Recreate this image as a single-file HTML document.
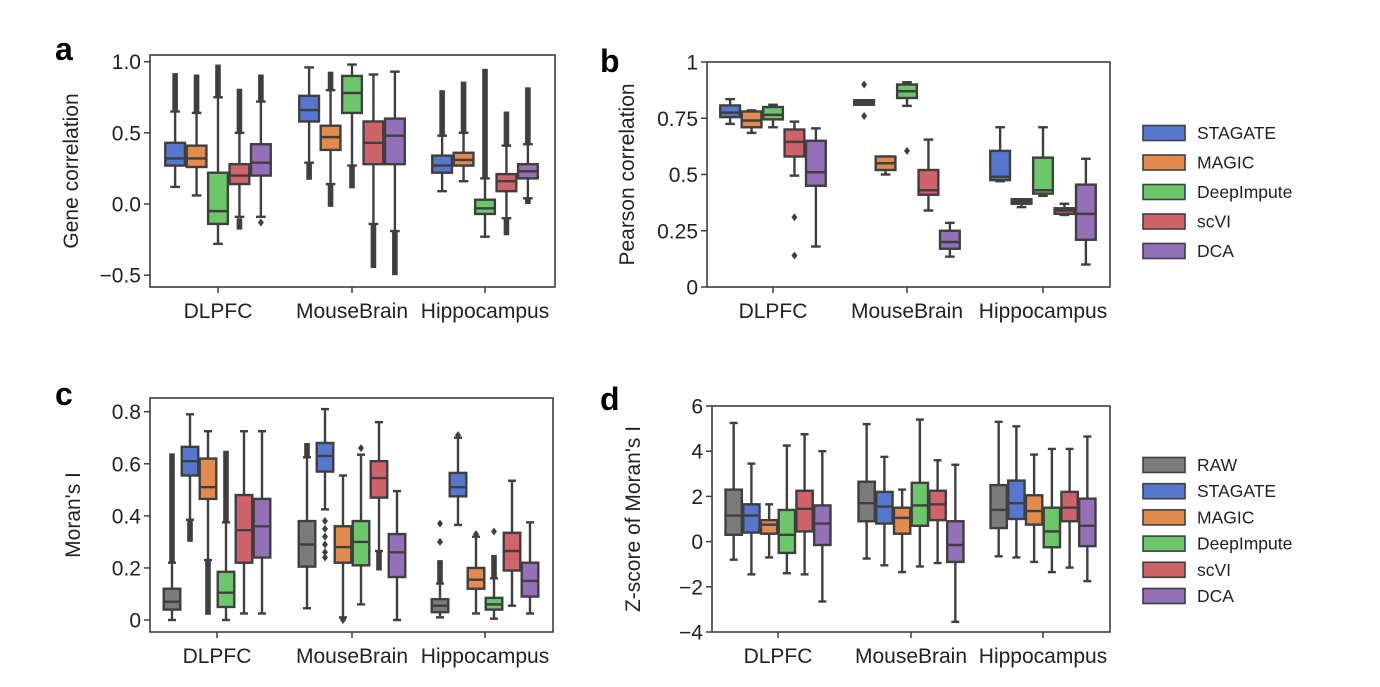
<!DOCTYPE html>
<html><head><meta charset="utf-8"><style>
body{margin:0;background:#fff;}
svg text{font-family:"Liberation Sans",Arial,sans-serif;fill:#222;}
</style></head><body>
<svg id="s" width="1380" height="682" xmlns="http://www.w3.org/2000/svg"></svg>
<script>
const C={gray:'#7b7b7b',blue:'#5577cd',orange:'#e38a4f',green:'#6cc76a',red:'#d0636a',purple:'#9370b8'};
const L='#3f3f3f';
let out='';
function panel(P){
  const {l,r,t,b,y0,y1,v0,v1,ticks,cx,cols,data,ylabel,ylx,letter,lx,ly}=P;
  const Y=v=>y0+(v-v0)*(y1-y0)/(v1-v0);
  out+=`<rect x="${l}" y="${t}" width="${r-l}" height="${b-t}" fill="#fff" stroke="${L}" stroke-width="1.6"/>`;
  ticks.forEach(tk=>{const y=Y(tk[0]);out+=`<line x1="${l-6}" x2="${l}" y1="${y}" y2="${y}" stroke="${L}" stroke-width="1.5"/><text x="${l-9}" y="${y+7.5}" font-size="21" text-anchor="end">${tk[1]}</text>`;});
  const names=['DLPFC','MouseBrain','Hippocampus'];
  const gw=(cx[1]-cx[0])*0.8, n=cols.length, bw=gw/n;
  cx.forEach((c,g)=>{
    out+=`<line x1="${c}" x2="${c}" y1="${b}" y2="${b+6}" stroke="${L}" stroke-width="1.5"/><text x="${c}" y="${b+31}" font-size="21" text-anchor="middle">${names[g]}</text>`;
    data[g].forEach((d,i)=>{
      const [q1,med,q3,lo,hi,outs]=d;
      const x=c-gw/2+bw*i+bw/2, w=bw*0.92, cap=bw*0.45;
      (outs||[]).forEach(o=>{
        if(Array.isArray(o)){out+=`<rect x="${x-2.8}" y="${Y(Math.max(o[0],o[1]))}" width="5.6" height="${Math.abs(Y(o[0])-Y(o[1]))}" fill="${L}"/>`;}
        else {const y=Y(o);out+=`<path d="M${x} ${y-4}L${x+3} ${y}L${x} ${y+4}L${x-3} ${y}Z" fill="${L}"/>`;}
      });
      out+=`<line x1="${x}" x2="${x}" y1="${Y(hi)}" y2="${Y(lo)}" stroke="${L}" stroke-width="2.4"/>`;
      out+=`<line x1="${x-cap/2}" x2="${x+cap/2}" y1="${Y(hi)}" y2="${Y(hi)}" stroke="${L}" stroke-width="2.4"/><line x1="${x-cap/2}" x2="${x+cap/2}" y1="${Y(lo)}" y2="${Y(lo)}" stroke="${L}" stroke-width="2.4"/>`;
      out+=`<rect x="${x-w/2}" y="${Y(q3)}" width="${w}" height="${Math.max(1,Y(q1)-Y(q3))}" fill="${C[cols[i]]}" stroke="${L}" stroke-width="2.4"/>`;
      out+=`<line x1="${x-w/2}" x2="${x+w/2}" y1="${Y(med)}" y2="${Y(med)}" stroke="${L}" stroke-width="2.4"/>`;
    });
  });
  const my=(t+b)/2;
  out+=`<text transform="translate(${ylx},${my}) rotate(-90)" font-size="21" text-anchor="middle">${ylabel}</text>`;
  out+=`<text x="${lx}" y="${ly}" font-size="32" font-weight="bold" style="fill:#000">${letter}</text>`;
}
const c5=['blue','orange','green','red','purple'], c6=['gray','blue','orange','green','red','purple'];
panel({l:150,r:555,t:55,b:287,y0:204,y1:61.7,v0:0,v1:1,ticks:[[1,'1.0'],[0.5,'0.5'],[0,'0.0'],[-0.5,'−0.5']],cx:[218,352,485],cols:c5,ylabel:'Gene correlation',ylx:78,letter:'a',lx:55,ly:60,
data:[[[0.27,0.32,0.43,0.12,0.65,[[0.65,0.92]]],[0.26,0.32,0.41,0.06,0.64,[[0.64,0.91]]],[-0.14,-0.05,0.22,-0.28,0.75,[[0.75,0.98]]],[0.14,0.2,0.28,-0.09,0.5,[[0.5,0.81],[-0.1,-0.18]]],[0.2,0.29,0.42,-0.09,0.72,[[0.72,0.91],-0.13]]],
[[0.58,0.66,0.76,0.29,0.96,[[0.17,0.29]]],[0.38,0.47,0.55,0.14,0.8,[[0.8,0.93],[-0.02,0.14]]],[0.64,0.78,0.9,0.27,0.98,[[0.11,0.27]]],[0.28,0.43,0.58,-0.14,0.91,[[-0.45,-0.14]]],[0.28,0.48,0.6,-0.19,0.93,[[-0.5,-0.19]]]],
[[0.22,0.27,0.34,0.09,0.48,[[0.48,0.8]]],[0.27,0.31,0.36,0.16,0.5,[[0.5,0.86]]],[-0.07,-0.03,0.03,-0.23,0.18,[[0.18,0.95]]],[0.09,0.16,0.21,-0.1,0.41,[[0.41,0.65],[-0.1,-0.22]]],[0.18,0.23,0.28,0.04,0.42,[[0.42,0.82],[0,0.04]]]]]});
panel({l:707,r:1110,t:62,b:287,y0:287,y1:62,v0:0,v1:1,ticks:[[1,'1'],[0.75,'0.75'],[0.5,'0.5'],[0.25,'0.25'],[0,'0']],cx:[773,907,1043],cols:c5,ylabel:'Pearson correlation',ylx:634,letter:'b',lx:600,ly:72,
data:[[[0.755,0.775,0.807,0.725,0.835],[0.71,0.74,0.78,0.685,0.785],[0.745,0.765,0.8,0.71,0.81],[0.58,0.645,0.7,0.495,0.735,[0.31,0.14]],[0.45,0.51,0.65,0.18,0.705]],
[[0.81,0.82,0.83,0.81,0.83,[0.9,0.76]],[0.52,0.55,0.58,0.5,0.58],[0.84,0.87,0.9,0.805,0.91,[0.605]],[0.41,0.43,0.52,0.34,0.655],[0.17,0.2,0.25,0.135,0.285]],
[[0.475,0.49,0.605,0.47,0.71],[0.37,0.38,0.39,0.355,0.39],[0.415,0.43,0.575,0.405,0.71],[0.325,0.34,0.35,0.32,0.37],[0.21,0.325,0.455,0.1,0.57]]]});
panel({l:150,r:553,t:398,b:632,y0:620,y1:411.7,v0:0,v1:0.8,ticks:[[0.8,'0.8'],[0.6,'0.6'],[0.4,'0.4'],[0.2,'0.2'],[0,'0']],cx:[217,352,485],cols:c6,ylabel:"Moran's I",ylx:80,letter:'c',lx:55,ly:405,
data:[[[0.04,0.07,0.12,0,0.22,[[0.22,0.64]]],[0.555,0.61,0.665,0.385,0.79,[[0.3,0.385]]],[0.465,0.51,0.62,0.23,0.725,[[0.02,0.23]]],[0.05,0.105,0.185,0,0.375,[[0.375,0.65]]],[0.22,0.345,0.48,0.025,0.725],[0.24,0.36,0.465,0.025,0.725]],
[[0.205,0.29,0.38,0.045,0.625,[[0.625,0.68]]],[0.57,0.63,0.68,0.425,0.81,[0.38,0.35,0.32,0.29,0.26,0.24]],[0.22,0.28,0.36,0.01,0.555,[0,0.005]],[0.21,0.3,0.38,0.06,0.635,[0.66]],[0.47,0.545,0.61,0.265,0.76,[[0.19,0.265]]],[0.165,0.26,0.33,0,0.495]],
[[0.03,0.055,0.08,0.01,0.14,[[0.14,0.23],0.3,0.37]],[0.475,0.51,0.565,0.365,0.7,[0.71]],[0.12,0.155,0.2,0.025,0.32,[0.33]],[0.04,0.06,0.085,0.005,0.16,[[0.16,0.25],0.34]],[0.19,0.265,0.335,0.055,0.535],[0.09,0.15,0.22,0.025,0.375]]]});
panel({l:712,r:1110,t:406,b:632,y0:406,y1:632,v0:6,v1:-4,ticks:[[6,'6'],[4,'4'],[2,'2'],[0,'0'],[-2,'−2'],[-4,'−4']],cx:[778,911,1043],cols:c6,ylabel:"Z-score of Moran's I",ylx:640,letter:'d',lx:600,ly:410,
data:[[[0.3,1.15,2.3,-0.8,5.25],[0.4,1.15,1.65,-1.45,3.45],[0.35,0.75,0.95,-0.7,1.65],[-0.5,0.3,1.4,-1.4,4.25],[0.45,1.45,2.25,-1.45,4.75],[-0.15,0.8,1.6,-2.65,4.0]],
[[0.9,1.7,2.65,-0.75,5.2],[0.8,1.55,2.2,-1.05,3.75],[0.35,1.05,1.5,-1.35,2.3],[0.7,1.6,2.6,-1.1,5.4],[0.95,1.65,2.25,-0.95,3.6],[-0.9,-0.15,0.9,-3.55,3.4]],
[[0.6,1.4,2.5,-0.65,5.3],[1.0,1.7,2.7,-0.7,5.1],[0.75,1.35,2.05,-0.9,3.85],[-0.25,0.45,1.5,-1.35,4.1],[0.9,1.5,2.2,-1.15,4.1],[-0.2,0.7,1.9,-1.75,4.65]]]});
function legend(items,y0,dy){
  items.forEach((it,i)=>{const y=y0+i*dy;
    out+=`<rect x="1143" y="${y-7.5}" width="42" height="15" fill="${C[it[0]]}" stroke="${L}" stroke-width="1.6"/><text x="1197" y="${y+6}" font-size="17.5">${it[1]}</text>`;});
}
legend([['blue','STAGATE'],['orange','MAGIC'],['green','DeepImpute'],['red','scVI'],['purple','DCA']],133,29.5);
legend([['gray','RAW'],['blue','STAGATE'],['orange','MAGIC'],['green','DeepImpute'],['red','scVI'],['purple','DCA']],465,26.2);
document.getElementById('s').innerHTML=out;
</script>
</body></html>
